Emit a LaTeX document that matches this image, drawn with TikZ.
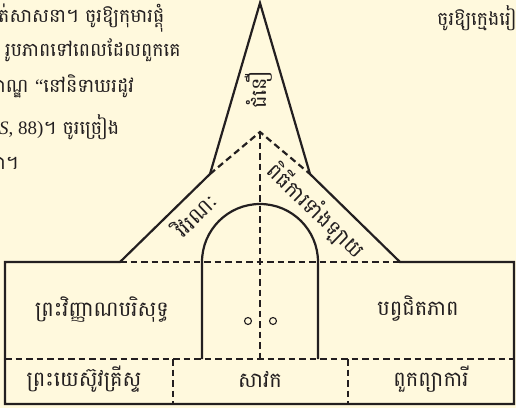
\documentclass[tikz,border=0pt]{standalone}
\usepackage{fontspec}
\setmainfont{Liberation Serif}
\newfontfamily\khmerfont[Script=Khmer]{Battambang}
\definecolor{paper}{RGB}{255,249,221}
\definecolor{ink}{RGB}{35,31,32}
\newlength\kawd
\begin{document}
\settowidth\kawd{\khmerfont\fontsize{19}{22}\selectfont ក}
\begin{tikzpicture}[x=1pt, y=1pt, line cap=butt, line join=miter,
    wall/.style={draw=ink, line width=2.2pt},
    seam/.style={draw=ink, line width=2.2pt, dash pattern=on 6.5pt off 4pt},
    knob/.style={circle, draw=ink, line width=1.1pt, inner sep=0pt, minimum size=7pt},
    lbl/.style={text=ink, inner sep=0pt, font=\khmerfont\fontsize{21}{24}\selectfont},
    para/.style={text=ink, inner sep=0pt, font=\khmerfont\fontsize{19}{22}\selectfont}]
  \fill[paper] (0,0) rectangle (516,408);
  \useasboundingbox (0,0) rectangle (516,408);
  \clip (0,0) rectangle (516,408);
  \node[para, anchor=west] (ln1) at (-2,390) {ត់សាសនា។ ចូរឱ្យកុមារផ្តុំ};
  \node[para, anchor=west] (ln2) at (5,358) {រូបភាពទៅពេលដែលពួកគេ};
  \node[para, anchor=west] (ln3) at (-\kawd,322) {កាណ្ឌ {\rmfamily “}នៅនិទាឃរដូវ};
  \node[para, anchor=west] (ln4) at (-1,281) {{\rmfamily\itshape S}{\rmfamily , 88)}។ ចូរច្រៀង};
  \node[para, anchor=west] (ln5) at (-\kawd,245) {កា។};
  \node[para, anchor=west] (rn1) at (437,390) {ចូរឱ្យក្មេងរៀប};
  \coordinate (apex) at (260,405);
  \coordinate (sl) at (210,234);
  \coordinate (sr) at (310,234);
  \coordinate (pk) at (260,276);
  \coordinate (bl) at (120,146);
  \coordinate (br) at (400,146);
  \coordinate (tl) at (5,146);
  \coordinate (tr) at (514,146);
  \coordinate (dl) at (5,4);
  \coordinate (dr) at (514,4);
  \coordinate (ml) at (5,49);
  \coordinate (mr) at (514,49);
  \coordinate (mb) at (260,49);
  \coordinate (al) at (202,49);
  \coordinate (ar) at (318,49);
  \coordinate (ja) at (173,49);
  \coordinate (jb) at (348,49);
  \draw[seam] (bl) -- (br);
  \draw[seam] (sl) -- (pk) -- (sr);
  \draw[seam] (pk) -- (mb);
  \draw[seam] (ml) -- (mr);
  \draw[seam] (ja) -- (ja |- dl);
  \draw[seam] (jb) -- (jb |- dl);
  \draw[wall] (tl) -- (bl) -- (sl) -- (apex) -- (sr) -- (br) -- (tr)
    -- (dr) -- (dl) -- cycle;
  \draw[wall] (al) -- ++(0,97) arc[start angle=180, end angle=0, radius=58] -- (ar);
  \node[knob] (k1) at (248,87) {};
  \node[knob] (k2) at (273,87) {};
  \node[lbl, rotate=90] (faith) at (259,318) {ជំនឿ};
  \node[lbl, rotate=44] (rev) at (195,194) {វិវរណៈ};
  \node[lbl, rotate=-44] (ord) at (316,197) {ពិធីការទាំងឡាយ};
  \node[lbl] (ghost) at (102,98) {ព្រះវិញ្ញាណបរិសុទ្ធ};
  \node[lbl] (priest) at (418,99) {បព្វជិតភាព};
  \node[lbl] (christ) at (84,29) {ព្រះយេស៊ូវគ្រីស្ទ};
  \node[lbl] (apost) at (260,29) {សាវក};
  \node[lbl] (proph) at (431,29) {ពួកព្យាការី};
\end{tikzpicture}
\end{document}
